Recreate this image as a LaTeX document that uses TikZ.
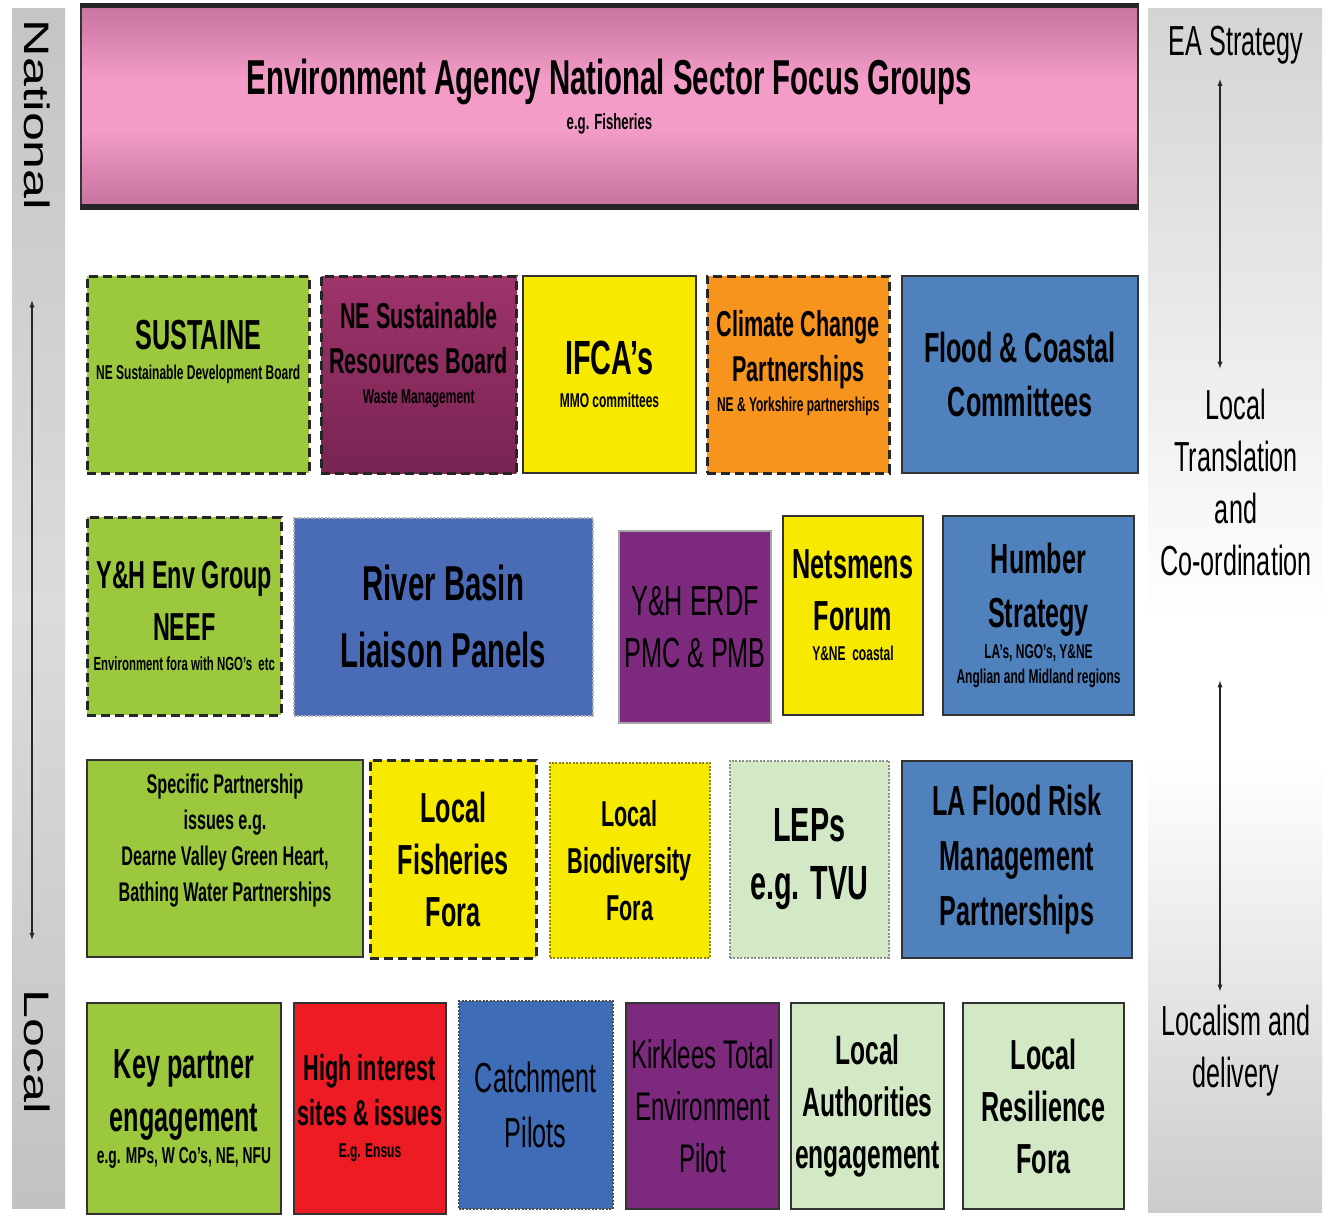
\documentclass[tikz,border=0pt]{standalone}
\usepackage{fontspec}
\setmainfont{Liberation Sans}[FakeStretch=0.6]
\newfontfamily\widefont{Liberation Sans}
\usepackage{graphicx}
\usepackage{tikz}
\usetikzlibrary{shapes,arrows}
\usetikzlibrary{positioning}
\usetikzlibrary{calc}
\definecolor{agpink}{RGB}{242,156,199}
\definecolor{agpinkdark}{RGB}{200,116,160}
\definecolor{leafgreen}{RGB}{155,200,60}
\definecolor{winetop}{RGB}{158,52,106}
\definecolor{winebottom}{RGB}{120,36,82}
\definecolor{sunyellow}{RGB}{247,234,0}
\definecolor{amber}{RGB}{247,148,30}
\definecolor{steelblue}{RGB}{79,129,189}
\definecolor{riverblue}{RGB}{74,108,182}
\definecolor{catchblue}{RGB}{62,108,182}
\definecolor{erdfpurple}{RGB}{125,42,126}
\definecolor{palegreen}{RGB}{211,233,197}
\definecolor{alarmred}{RGB}{237,28,36}
\newcommand\fs[2]{\fontsize{#1}{#2}\selectfont}
\newcommand\grptext[4][20]{#2\\[#3]{\fontsize{#1}{#1}\selectfont #4}}
\newcommand\orgnode[6][]{%
  \node[orgbox,#1,minimum width=#4pt,minimum height=#5pt] (#2) at (#3) {#6};
}

\begin{document}
\begin{tikzpicture}[
x=1pt, y=-1pt,
orgbox/.style={
  anchor=north west,
  draw=black!80,
  line width=2pt,
  align=center,
  inner sep=1pt,
  font=\bfseries},
dashbox/.style={
  dash pattern=on 9pt off 5pt,
  line width=2.5pt,
  draw=black!85},
dotbox/.style={
  dash pattern=on 2pt off 1.5pt,
  line width=1.5pt},
bartext/.style={
  align=center,
  inner sep=0pt,
  font=\fs{42}{52}},
sidetext/.style={
  inner sep=0pt,
  rotate=-90,
  font=\widefont\fs{52}{52}},
biarrow/.style={<->, >=latex, line width=1.3pt, black!85}
]
\fill[white] (0,0) rectangle (1330,1216);
\useasboundingbox (0,0) rectangle (1330,1216);

\shade[top color=black!23,bottom color=black!14] (12,8) rectangle (65,608);
\shade[top color=black!14,bottom color=black!24] (12,608) rectangle (65,1208);
\shade[top color=black!17,bottom color=white] (1148,8) rectangle (1322,620);
\fill[white] (1148,620) rectangle (1322,760);
\shade[top color=white,bottom color=black!20] (1148,760) rectangle (1322,1212);

\node[sidetext] (natl) at (37,115) {\scalebox{1}[0.68]{National}};
\node[sidetext] (locl) at (37,1052) {\scalebox{1}[0.68]{Local}};
\draw[biarrow,shorten <=90pt,shorten >=50pt] ([xshift=-5pt]natl.east) -- ([xshift=-5pt]locl.west);

\node[bartext] (ea) at (1236,45) {EA Strategy};
\node[bartext] (trans) at (1236,482) {Local\\Translation\\and\\Co-ordination};
\node[bartext] (locdel) at (1236,1051) {Localism and\\delivery};
\draw[biarrow,shorten <=15pt,shorten >=20pt] ([xshift=-16pt]ea.south) -- ([xshift=-16pt]trans.north);
\draw[biarrow,shorten <=105pt,shorten >=14pt] ([xshift=-16pt]trans.south) -- ([xshift=-16pt]locdel.north);

\shade[top color=agpinkdark,bottom color=agpink] (80,5) rectangle (1137,80);
\fill[agpink] (80,80) rectangle (1137,130);
\shade[top color=agpink,bottom color=agpinkdark] (80,130) rectangle (1137,205);
\orgnode[line width=2pt,text depth=24pt,font=\bfseries\fs{49}{55}]{nsfg}{80,5}{1057}{200}{\grptext[22]{Environment Agency National Sector Focus Groups}{-20pt}{e.g. Fisheries}}
\draw[line width=5pt,black!85] (nsfg.north west) -- (nsfg.north east);
\draw[line width=6pt,black!85] (nsfg.south west) -- (nsfg.south east);

\orgnode[dashbox,fill=leafgreen,text depth=50pt,font=\bfseries\fs{42}{46}]{sustaine}{86,275}{222}{197}{\grptext{SUSTAINE}{-16pt}{NE Sustainable Development Board}}
\orgnode[dashbox,top color=winetop,bottom color=winebottom,text depth=44pt,font=\bfseries\fs{36}{45}]{nesrb}{320,275}{195}{197}{\grptext{NE Sustainable\\Resources Board}{-15pt}{Waste Management}}
\orgnode[fill=sunyellow,font=\bfseries\fs{48}{54}]{ifca}{522,275}{173}{197}{\grptext{IFCA’s}{-21pt}{MMO committees}}
\orgnode[dashbox,fill=amber,text depth=28pt,font=\bfseries\fs{36}{45}]{climate}{706,275}{182}{197}{\grptext{Climate Change\\Partnerships}{-15pt}{NE \& Yorkshire partnerships}}
\orgnode[fill=steelblue,font=\bfseries\fs{42}{54}]{floodcoast}{901,275}{236}{197}{Flood \& Coastal\\Committees}

\orgnode[dashbox,fill=leafgreen,font=\bfseries\fs{39}{52}]{yhenv}{86,516}{194}{198}{\grptext[19]{Y\&H Env Group\\NEEF}{-22pt}{Environment fora with NGO’s\ \ etc}}
\orgnode[dotbox,draw=white!70!black,fill=riverblue,font=\bfseries\fs{49}{67}]{riverbasin}{293,517}{299}{198}{River Basin\\Liaison Panels}
\orgnode[draw=black!35,fill=erdfpurple,font=\fs{42}{52}]{erdf}{618,530}{152}{192}{Y\&H ERDF\\PMC \& PMB}
\orgnode[fill=sunyellow,text depth=20pt,font=\bfseries\fs{42}{52}]{netsmens}{782,515}{140}{199}{\grptext{Netsmens\\Forum}{-22pt}{Y\&NE\ \ coastal}}
\orgnode[fill=steelblue,font=\bfseries\fs{42}{54}]{humber}{942,515}{191}{199}{Humber\\Strategy\\[-23pt]{\fs{20}{20}LA’s, NGO’s, Y\&NE}\\[-29pt]{\fs{20}{20}Anglian and Midland regions}}

\orgnode[fill=leafgreen,text depth=42pt,font=\bfseries\fs{27}{36}]{specific}{86,759}{276}{197}{Specific Partnership\\issues e.g.\\Dearne Valley Green Heart,\\Bathing Water Partnerships}
\orgnode[dashbox,fill=sunyellow,font=\bfseries\fs{42}{52}]{fisheries}{369,759}{166}{198}{Local\\Fisheries\\Fora}
\orgnode[dotbox,draw=olive,fill=sunyellow,font=\bfseries\fs{36}{47}]{biodiv}{549,762}{160}{195}{Local\\Biodiversity\\Fora}
\orgnode[dotbox,draw=black!45,fill=palegreen,font=\bfseries\fs{48}{58}]{leps}{729,760}{159}{197}{LEPs\\e.g. TVU}
\orgnode[fill=steelblue,font=\bfseries\fs{42}{55}]{laflood}{901,760}{230}{197}{LA Flood Risk\\Management\\Partnerships}

\orgnode[fill=leafgreen,font=\bfseries\fs{42}{53}]{keypartner}{86,1002}{194}{211}{\grptext[23]{Key partner\\engagement}{-21pt}{e.g. MPs, W Co’s, NE, NFU}}
\orgnode[fill=alarmred,font=\bfseries\fs{36}{45}]{highinterest}{293,1002}{152}{211}{\grptext{High interest\\sites \& issues}{-13pt}{E.g. Ensus}}
\orgnode[dotbox,draw=black!70,fill=catchblue,font=\fs{42}{55}]{catchment}{458,1000}{154}{208}{Catchment\\Pilots}
\orgnode[fill=erdfpurple,font=\fs{40}{52}]{kirklees}{625,1002}{153}{206}{Kirklees Total\\Environment\\Pilot}
\orgnode[fill=palegreen,font=\bfseries\fs{41}{52}]{laengage}{790,1002}{153}{206}{Local\\Authorities\\engagement}
\orgnode[fill=palegreen,font=\bfseries\fs{42}{52}]{resilience}{962,1002}{161}{206}{Local\\Resilience\\Fora}
\end{tikzpicture}
\end{document}
